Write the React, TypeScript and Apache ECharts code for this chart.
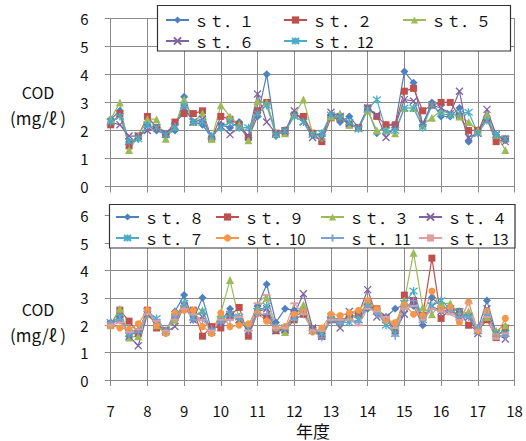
import React, { useEffect, useRef } from "react";
import * as echarts from "echarts";

// Fiscal years (each has four quarterly samples)
const years = [7, 8, 9, 10, 11, 12, 13, 14, 15, 16, 17];
const quarterOffsets = [0, 0.25, 0.5, 0.75];

// Upper panel
const topNames = ["ｓｔ．１", "ｓｔ．２", "ｓｔ．５", "ｓｔ．６", "ｓｔ．12"];
const st1 = [2.4, 2.7, 1.6, 1.7, 2.2, 2.0, 1.85, 2.0, 3.2, 2.3, 2.2, 1.75, 2.2, 2.1, 2.3, 1.75, 2.5, 4.0, 1.8, 2.0, 2.55, 2.45, 1.85, 1.85, 2.55, 2.3, 2.5, 2.1, 2.75, 1.9, 2.2, 2.2, 4.1, 3.7, 2.2, 3.0, 2.5, 2.5, 2.8, 1.6, 2.0, 2.4, 1.85, 1.65];
const st2 = [2.2, 2.6, 1.45, 1.8, 2.5, 2.1, 1.85, 2.3, 2.6, 2.6, 2.7, 1.7, 2.5, 2.4, 2.2, 1.75, 2.7, 3.0, 1.9, 2.0, 2.55, 2.5, 1.9, 1.6, 2.45, 2.45, 2.2, 2.1, 2.8, 2.5, 2.2, 2.2, 3.4, 3.5, 2.7, 2.9, 3.0, 3.0, 2.5, 2.0, 2.0, 2.4, 1.6, 1.7];
const st5 = [2.4, 3.0, 1.3, 1.8, 2.4, 2.4, 1.7, 2.15, 3.1, 2.3, 2.6, 1.7, 2.9, 2.5, 2.2, 1.65, 3.05, 3.0, 1.9, 1.9, 2.55, 3.1, 1.9, 1.75, 2.5, 2.6, 2.2, 2.1, 2.7, 2.0, 2.0, 1.9, 2.8, 2.8, 2.2, 2.45, 2.7, 2.6, 2.5, 2.3, 2.0, 2.55, 1.85, 1.3];
const st6 = [2.3, 2.2, 1.8, 1.8, 2.0, 2.1, 1.9, 2.15, 2.8, 2.3, 2.4, 1.8, 2.15, 1.85, 2.1, 1.8, 3.3, 2.3, 1.9, 1.95, 2.7, 2.3, 1.75, 1.7, 2.65, 2.5, 2.25, 2.1, 2.8, 2.55, 1.75, 2.15, 3.1, 3.05, 2.25, 2.9, 2.8, 2.6, 3.4, 1.75, 1.9, 2.75, 1.85, 1.6];
const st12 = [2.3, 2.5, 1.6, 1.7, 2.2, 2.1, 1.85, 2.1, 2.9, 2.3, 2.3, 1.8, 2.1, 2.3, 2.1, 2.1, 2.6, 2.9, 1.85, 2.0, 2.5, 2.3, 1.85, 1.9, 2.55, 2.45, 2.3, 2.05, 2.75, 3.1, 2.0, 2.0, 2.8, 2.8, 2.1, 2.9, 2.6, 2.55, 2.6, 2.65, 1.9, 2.35, 1.85, 1.7];

// Lower panel
const bottomNames = ["ｓｔ．８", "ｓｔ．９", "ｓｔ．３", "ｓｔ．４", "ｓｔ．７", "ｓｔ．10", "ｓｔ．11", "ｓｔ．13"];
const st8 = [2.1, 2.3, 1.6, 1.8, 2.5, 2.1, 1.75, 2.5, 3.1, 2.2, 3.0, 1.8, 2.15, 2.6, 2.1, 1.95, 2.7, 3.5, 2.1, 2.6, 2.55, 2.5, 1.85, 1.7, 2.3, 2.2, 2.3, 2.3, 2.6, 2.6, 2.3, 2.6, 2.75, 2.7, 2.0, 3.0, 2.7, 2.6, 2.3, 2.4, 1.85, 2.9, 1.7, 1.7];
const st9 = [2.05, 2.55, 2.15, 1.7, 2.55, 1.9, 1.8, 2.3, 2.6, 2.55, 1.6, 1.95, 1.9, 2.35, 2.65, 1.6, 2.45, 2.3, 1.8, 1.8, 2.2, 2.4, 1.85, 1.6, 2.2, 2.1, 2.3, 2.4, 2.7, 2.6, 2.25, 1.8, 3.1, 2.9, 2.35, 4.45, 2.25, 2.6, 2.5, 2.0, 1.8, 2.2, 1.55, 1.9];
const st3 = [2.0, 2.6, 1.55, 1.6, 2.4, 2.0, 1.8, 2.2, 2.8, 2.3, 2.55, 1.75, 2.45, 3.65, 2.2, 2.0, 2.6, 3.0, 1.95, 1.75, 2.3, 2.75, 1.85, 1.75, 2.3, 2.15, 2.3, 2.4, 2.8, 2.6, 2.3, 1.95, 2.9, 4.65, 2.65, 2.4, 2.8, 2.8, 2.4, 2.5, 1.9, 2.3, 1.8, 2.0];
const st4 = [2.05, 2.2, 1.6, 1.25, 2.4, 2.1, 1.75, 1.95, 2.7, 2.2, 2.3, 1.8, 2.1, 2.3, 2.2, 1.8, 2.5, 2.6, 1.8, 1.85, 2.4, 3.15, 1.9, 1.6, 2.3, 1.9, 2.5, 2.4, 3.3, 2.3, 2.3, 1.8, 2.4, 2.9, 2.1, 2.7, 2.5, 2.6, 2.3, 2.3, 1.7, 2.6, 1.7, 1.5];
const st7 = [2.1, 2.3, 1.7, 1.8, 2.5, 2.25, 1.8, 2.3, 2.8, 2.3, 2.5, 1.8, 2.2, 2.4, 2.3, 1.9, 2.5, 2.7, 1.9, 1.9, 2.3, 2.5, 1.8, 1.7, 2.2, 2.1, 2.1, 2.2, 2.7, 2.5, 2.0, 1.7, 2.8, 3.25, 2.2, 2.7, 2.9, 2.6, 2.5, 2.3, 1.8, 2.4, 1.7, 1.7];
const st10 = [2.0, 1.9, 1.85, 2.05, 2.55, 2.0, 1.7, 2.45, 2.55, 2.55, 1.95, 1.7, 2.45, 1.95, 2.0, 2.05, 2.45, 2.15, 1.9, 1.95, 2.4, 2.5, 1.75, 1.9, 2.4, 2.35, 2.45, 2.55, 2.9, 2.6, 2.2, 2.1, 2.75, 2.4, 2.35, 3.25, 2.6, 2.65, 2.1, 2.85, 1.8, 2.5, 1.6, 2.25];
const st11 = [2.1, 2.2, 1.7, 1.75, 2.4, 2.2, 1.8, 2.3, 2.7, 2.2, 2.2, 1.85, 2.1, 2.2, 2.3, 1.8, 2.4, 2.4, 1.9, 1.9, 2.2, 2.4, 1.8, 1.55, 2.2, 2.1, 2.2, 2.1, 2.7, 2.4, 2.3, 1.6, 2.6, 2.9, 2.2, 2.6, 2.5, 2.5, 2.3, 2.3, 1.9, 2.4, 1.6, 1.6];
const st13 = [2.0, 2.1, 1.75, 1.85, 2.4, 2.15, 1.8, 2.2, 2.6, 2.4, 2.2, 1.8, 2.2, 2.2, 2.3, 1.8, 2.8, 3.1, 1.9, 1.9, 2.8, 2.4, 1.8, 1.8, 2.2, 2.2, 2.2, 2.0, 2.6, 2.5, 2.3, 1.9, 2.6, 2.7, 2.2, 2.6, 2.5, 2.4, 2.2, 2.8, 1.8, 2.3, 1.5, 1.7];

const xLabel = "年度";
const yLabelLines = ["COD", "(mg/ℓ )"];

const FONT = "'Noto Sans CJK JP', 'Noto Sans', sans-serif";
const GRID_COLOR = "#8a8a8a";

const xs = years.flatMap((y) => quarterOffsets.map((q) => y + q));

const SYM = {
  diamond: { symbol: "diamond", size: 8, stroke: false },
  square: { symbol: "rect", size: 7, stroke: false },
  triangle: { symbol: "triangle", size: 8, stroke: false },
  cross: { symbol: "path://M0,0L10,10M10,0L0,10", size: 7, stroke: true },
  star: { symbol: "path://M1,1L9,9M9,1L1,9M5,0L5,10", size: 8, stroke: true },
  circle: { symbol: "circle", size: 7, stroke: false },
  plus: { symbol: "path://M5,0L5,10M0,5L10,5", size: 8, stroke: true },
  dash: { symbol: "rect", size: [8, 2], stroke: false },
};

function makeSeries(name: string, values: number[], color: string, kind: keyof typeof SYM, idx: number) {
  const s = SYM[kind];
  return {
    type: "line",
    name,
    xAxisIndex: idx,
    yAxisIndex: idx,
    data: values.map((v, i) => [xs[i], v]),
    symbol: s.symbol,
    symbolSize: s.size,
    showAllSymbol: true,
    lineStyle: { color, width: 1.2 },
    itemStyle: { color, borderColor: color, borderWidth: s.stroke ? 1.3 : 0 },
    emphasis: { disabled: true },
  };
}

export default function App() {
  const ref = useRef<HTMLDivElement>(null);
  useEffect(() => {
    if (!ref.current) return;
    const chart = echarts.init(ref.current, null, { renderer: "svg" });

    const topSeries = [
      makeSeries(topNames[0], st1, "#4F81BD", "diamond", 0),
      makeSeries(topNames[1], st2, "#C0504D", "square", 0),
      makeSeries(topNames[2], st5, "#9BBB59", "triangle", 0),
      makeSeries(topNames[3], st6, "#8064A2", "cross", 0),
      makeSeries(topNames[4], st12, "#4BACC6", "star", 0),
    ];
    const bottomSeries = [
      makeSeries(bottomNames[0], st8, "#4F81BD", "diamond", 1),
      makeSeries(bottomNames[1], st9, "#C0504D", "square", 1),
      makeSeries(bottomNames[2], st3, "#9BBB59", "triangle", 1),
      makeSeries(bottomNames[3], st4, "#8064A2", "cross", 1),
      makeSeries(bottomNames[4], st7, "#4BACC6", "star", 1),
      makeSeries(bottomNames[5], st10, "#F79646", "circle", 1),
      makeSeries(bottomNames[6], st11, "#7F9FD3", "plus", 1),
      makeSeries(bottomNames[7], st13, "#DDA09E", "dash", 1),
    ];

    const topSlots = [
      [165, 12], [283, 12], [402, 12],
      [165, 33], [283, 33],
    ];
    const bottomSlots = [
      [115, 209], [215, 209], [320, 209], [418, 209],
      [115, 230], [215, 230], [320, 230], [418, 230],
    ];
    const legendItem = (name: string, slot: number[], fs: number) => ({
      data: [name],
      left: slot[0],
      top: slot[1],
      padding: 0,
      itemWidth: 23,
      itemHeight: 9,
      selectedMode: false,
      textStyle: { fontSize: fs, lineHeight: fs + 1, color: "#111", fontFamily: FONT },
      z: 10,
    });

    const xAxisBase = {
      type: "value",
      min: 7,
      max: 18,
      interval: 1,
      axisLine: { show: true, lineStyle: { color: GRID_COLOR, width: 1 } },
      axisTick: { show: true, length: 6, lineStyle: { color: GRID_COLOR } },
      splitLine: { show: true, lineStyle: { color: GRID_COLOR, width: 1 } },
    };
    const yAxisBase = {
      type: "value",
      min: 0,
      max: 6,
      interval: 1,
      axisLine: { show: true, lineStyle: { color: GRID_COLOR, width: 1 } },
      axisTick: { show: true, length: 6, lineStyle: { color: GRID_COLOR } },
      splitLine: { show: true, lineStyle: { color: GRID_COLOR, width: 1 } },
      axisLabel: { fontSize: 15, color: "#111", fontFamily: FONT, margin: 22 },
    };

    chart.setOption({
      animation: false,
      backgroundColor: "#fff",
      grid: [
        { left: 110.7, right: 11.5, top: 18.3, height: 168.2 },
        { left: 110.7, right: 11.5, top: 215.7, height: 164.3 },
      ],
      xAxis: [
        { ...xAxisBase, gridIndex: 0, axisLabel: { show: false } },
        {
          ...xAxisBase,
          gridIndex: 1,
          axisLabel: { show: true, fontSize: 15, color: "#111", fontFamily: FONT, margin: 23 },
        },
      ],
      yAxis: [
        { ...yAxisBase, gridIndex: 0 },
        { ...yAxisBase, gridIndex: 1 },
      ],
      legend: [
        ...topNames.map((n, i) => legendItem(n, topSlots[i], 15)),
        ...bottomNames.map((n, i) => legendItem(n, bottomSlots[i], 15)),
      ],
      graphic: [
        {
          type: "rect",
          shape: { x: 157.5, y: 5.5, width: 353, height: 45.5 },
          style: { fill: "#fff", stroke: "#333", lineWidth: 1.2 },
          z: 3,
        },
        {
          type: "rect",
          shape: { x: 109.5, y: 204.5, width: 405.5, height: 43.5 },
          style: { fill: "#fff", stroke: "#333", lineWidth: 1.2 },
          z: 3,
        },
        {
          type: "text",
          x: 38, y: 92,
          style: { text: yLabelLines[0], fontSize: 16, fill: "#111", fontFamily: FONT, align: "center", verticalAlign: "middle" },
        },
        {
          type: "text",
          x: 38, y: 117,
          style: { text: yLabelLines[1], fontSize: 17, fill: "#111", fontFamily: FONT, align: "center", verticalAlign: "middle" },
        },
        {
          type: "text",
          x: 38, y: 309,
          style: { text: yLabelLines[0], fontSize: 16, fill: "#111", fontFamily: FONT, align: "center", verticalAlign: "middle" },
        },
        {
          type: "text",
          x: 38, y: 334,
          style: { text: yLabelLines[1], fontSize: 17, fill: "#111", fontFamily: FONT, align: "center", verticalAlign: "middle" },
        },
        {
          type: "text",
          x: 313, y: 430,
          style: { text: xLabel, fontSize: 17, fill: "#111", fontFamily: FONT, align: "center", verticalAlign: "middle" },
        },
      ],
      series: [...topSeries, ...bottomSeries],
    });
    return () => chart.dispose();
  }, []);
  return <div ref={ref} style={{ position: "fixed", left: 0, top: 0, width: 526, height: 441 }} />;
}
